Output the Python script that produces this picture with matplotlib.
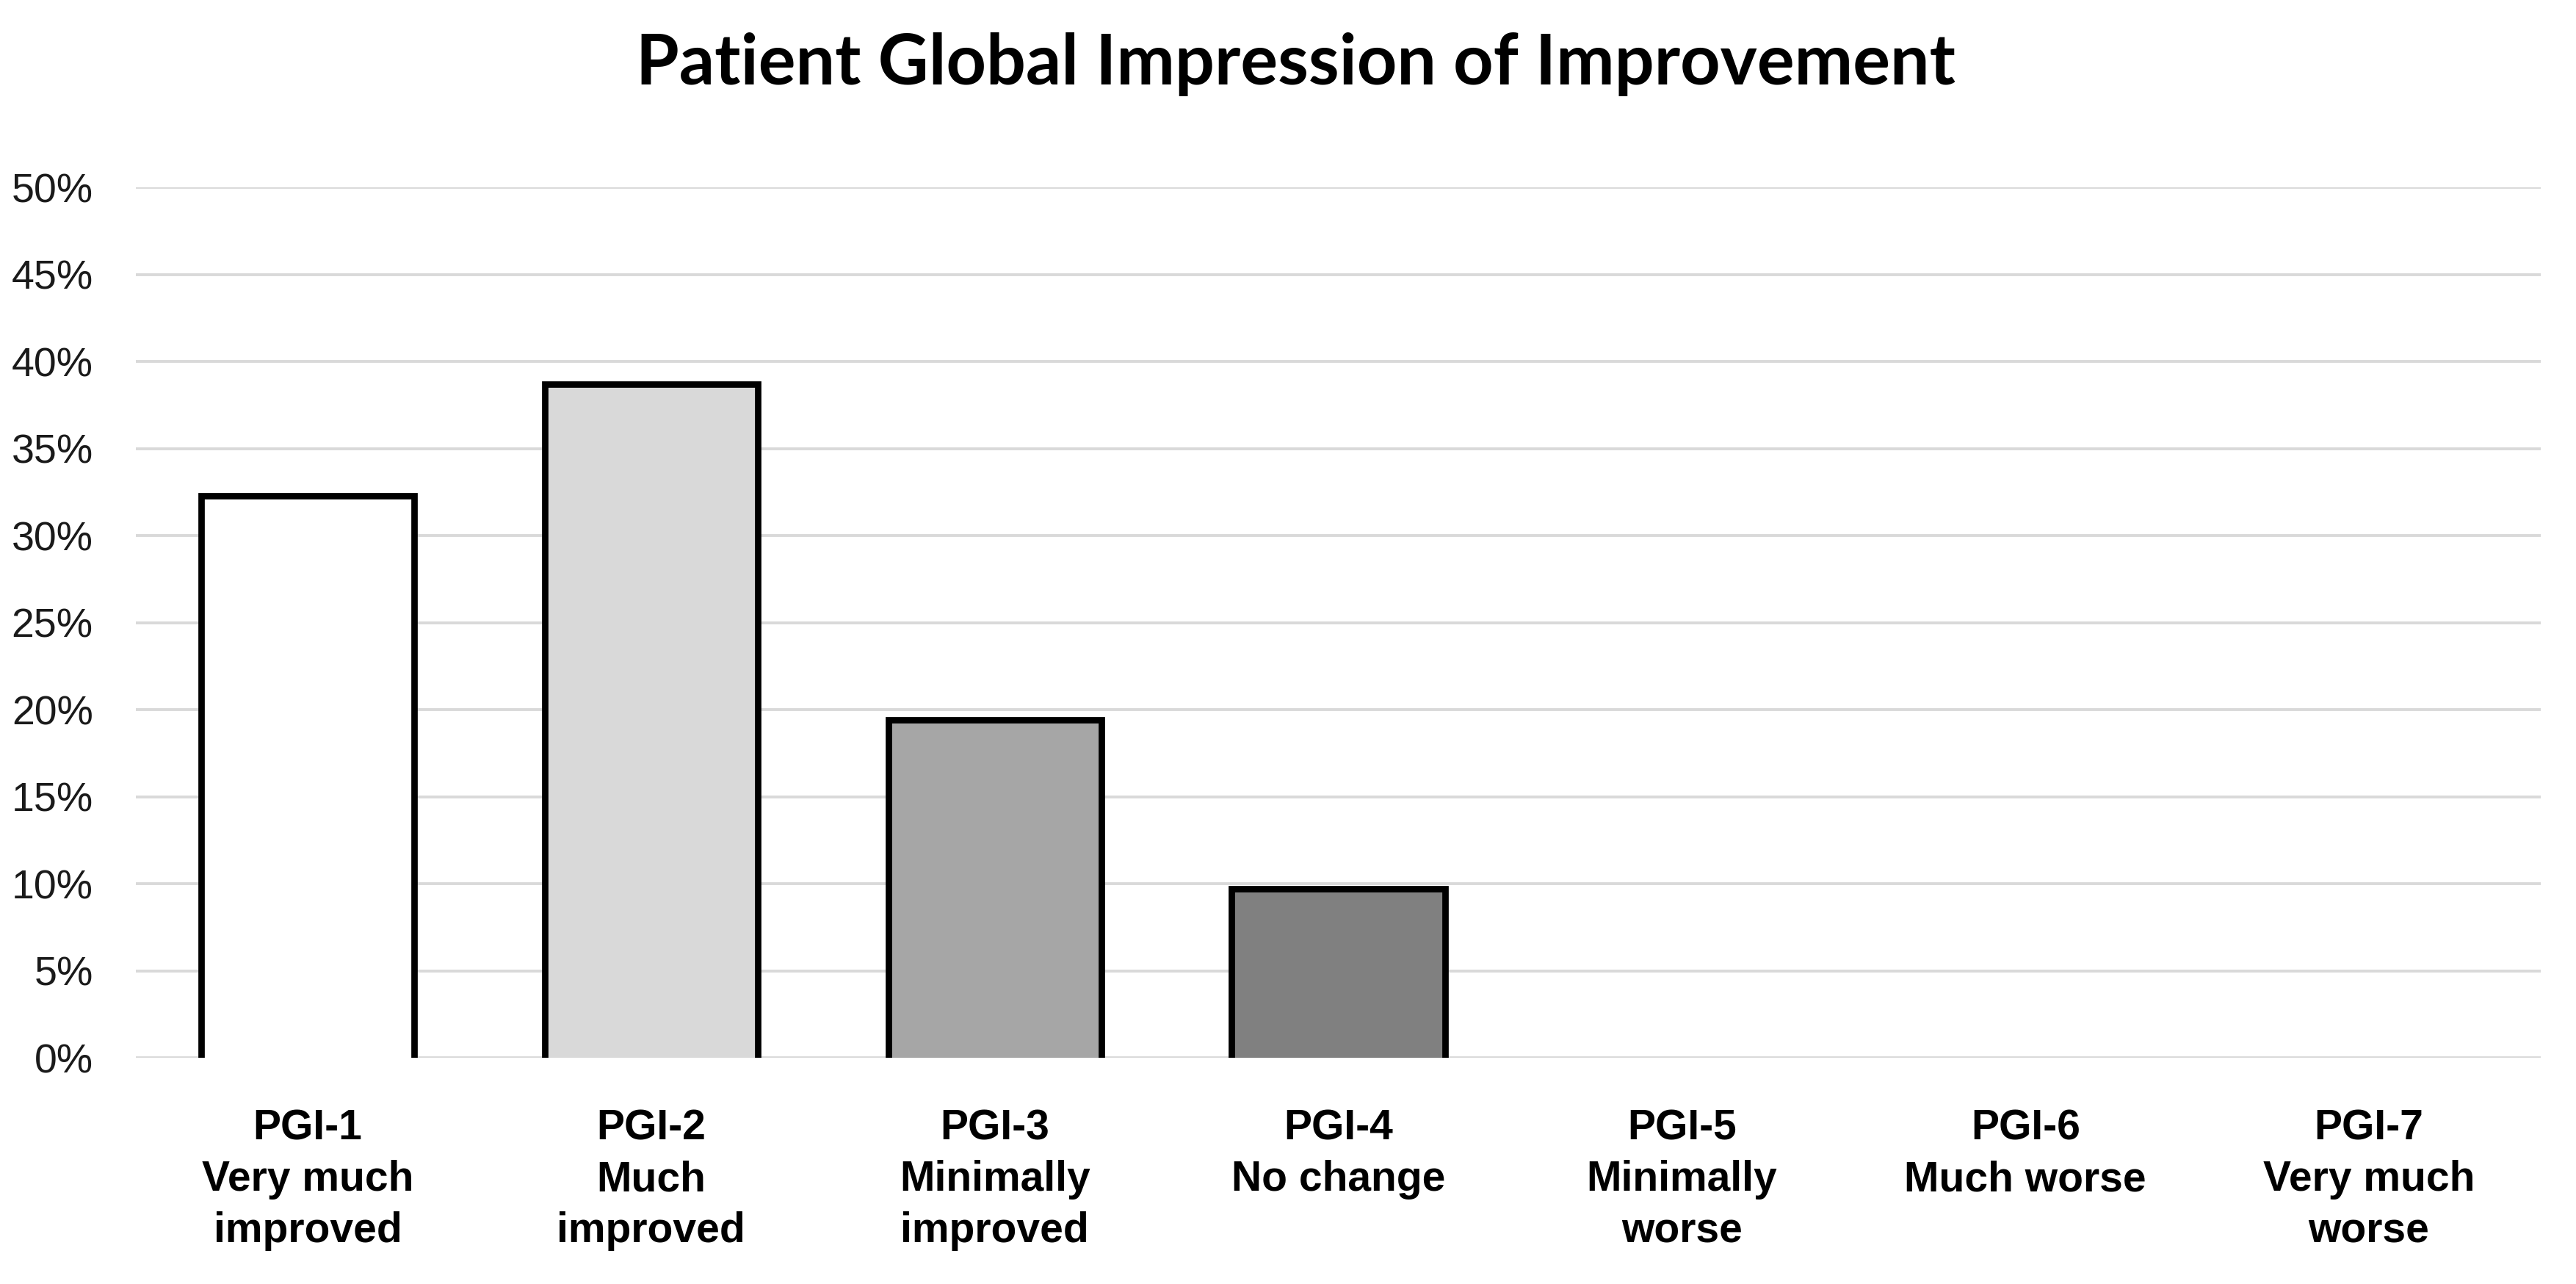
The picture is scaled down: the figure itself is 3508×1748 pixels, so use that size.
import matplotlib
matplotlib.use("Agg")
import matplotlib.pyplot as plt
from matplotlib.ticker import FuncFormatter

categories = ["PGI-1\nVery much\nimproved", "PGI-2\nMuch\nimproved", "PGI-3\nMinimally\nimproved",
              "PGI-4\nNo change", "PGI-5\nMinimally\nworse", "PGI-6\nMuch worse", "PGI-7\nVery much\nworse"]
values = [0.323, 0.387, 0.194, 0.097, 0.0, 0.0, 0.0]
bar_colors = ["#ffffff", "#d9d9d9", "#a6a6a6", "#808080", "#808080", "#808080", "#808080"]
yticks = [0.0, 0.05, 0.10, 0.15, 0.20, 0.25, 0.30, 0.35, 0.40, 0.45, 0.50]
title = "Patient Global Impression of Improvement"

fig = plt.figure(figsize=(35.08, 17.48), dpi=100)
ax = fig.add_axes([0.05274, 0.1762, 0.93358, 0.6779])

x = list(range(len(categories)))
bars = ax.bar(x, values, width=0.62, color=bar_colors, edgecolor="none", zorder=2)
# outline (left, top, right) of each non-empty bar
for rect, v in zip(bars, values):
    if v <= 0:
        continue
    x0 = rect.get_x()
    w = rect.get_width()
    h = rect.get_height()
    ax.plot([x0, x0, x0 + w, x0 + w], [0, h, h, 0], color="black", lw=6.3,
            solid_joinstyle="miter", solid_capstyle="butt", zorder=3)

ax.set_xlim(-0.5, len(categories) - 0.5)
ax.set_ylim(0, 0.5)
ax.set_yticks(yticks)
ax.yaxis.set_major_formatter(FuncFormatter(lambda v, p: f"{v*100:.0f}%"))
ax.set_xticks(x)
ax.set_xticklabels(categories, fontfamily="Liberation Sans", fontweight="bold",
                   fontsize=41, linespacing=1.38, va="top")
for lab in ax.get_yticklabels():
    lab.set_fontfamily("Liberation Sans")
    lab.set_fontsize(40)
ax.tick_params(axis="y", length=0, pad=42, colors="#1a1a1a")
ax.tick_params(axis="x", length=0, pad=50)
for s in ax.spines.values():
    s.set_visible(False)
ax.grid(axis="y", color="#d9d9d9", lw=2.8, zorder=0)
ax.set_axisbelow(True)

fig.text(0.503, 0.950, title, ha="center", va="center", fontsize=68.5,
         fontfamily="Lato", fontweight="bold", color="black")

fig.savefig("out.png", dpi=100, facecolor="white")
